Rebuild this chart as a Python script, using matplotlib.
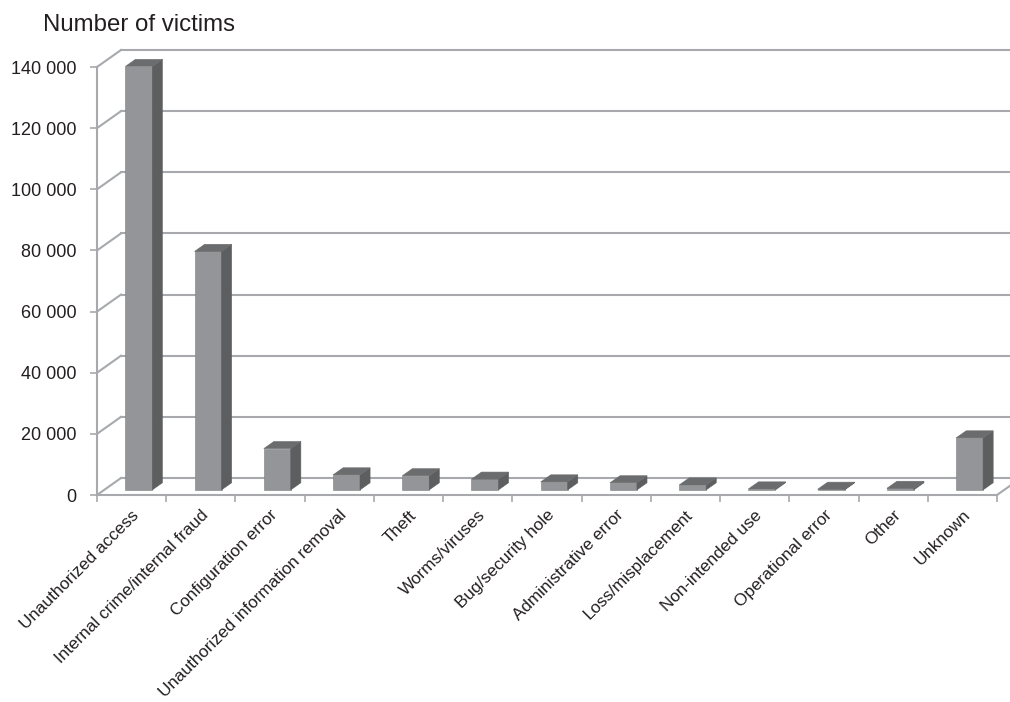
import numpy as np
import matplotlib
matplotlib.use('Agg')
import matplotlib.pyplot as plt
from matplotlib.patches import Polygon

plt.rcParams['font.family'] = ['Liberation Sans', 'DejaVu Sans']

categories = ['Unauthorized access', 'Internal crime/internal fraud', 'Configuration error',
              'Unauthorized information removal', 'Theft', 'Worms/viruses',
              'Bug/security hole', 'Administrative error', 'Loss/misplacement',
              'Non-intended use', 'Operational error', 'Other', 'Unknown']
victims = [138500, 78000, 13500, 4900, 4600, 3500, 2600, 2300, 1600, 300, 200, 500, 17000]
y_ticks = [0, 20000, 40000, 60000, 80000, 100000, 120000, 140000]
y_tick_labels = ['0', '20 000', '40 000', '60 000', '80 000', '100 000', '120 000', '140 000']

grid_col = '#a7a9ac'
front_col = '#939598'
side_col = '#5d5e60'
top_col = '#6b6c6e'
text_col = '#231f20'

fig = plt.figure(figsize=(10.1, 7.02), dpi=100)
ax = fig.add_axes([97 / 1010, 1 - 495 / 702, 900 / 1010, 428 / 702])
n = len(categories)
ax.set_xlim(0, n)
ax.set_ylim(0, 140000)

# depth of the 3d box in data units
DX = 24 / (900 / n)
DY = 17 / (428 / 140000)

# walls: diagonals on left wall + back wall gridlines
for v in y_ticks:
    ax.plot([0, DX], [v, v + DY], color=grid_col, lw=1.5, clip_on=False, zorder=1)
    ax.plot([DX, n + DX], [v + DY, v + DY], color=grid_col, lw=1.5, clip_on=False, zorder=1)
ax.plot([n, n + DX], [0, DY], color=grid_col, lw=1.5, clip_on=False, zorder=1)

# bars with pseudo 3d faces
d0, d1 = 0.3, 0.72
w = 0.39
centers = np.arange(n) + 0.5
xl = centers - w / 2 + d0 * DX
ax.bar(xl, victims, width=w, bottom=d0 * DY, align='edge', color=front_col,
       edgecolor='#7d7f81', lw=0.4, zorder=3)
ddx = (d1 - d0) * DX
ddy = (d1 - d0) * DY
for x0, v in zip(xl, victims):
    yb = d0 * DY
    yt = yb + v
    side = Polygon([[x0 + w, yb], [x0 + w + ddx, yb + ddy], [x0 + w + ddx, yt + ddy], [x0 + w, yt]],
                   closed=True, fc=side_col, ec=side_col, lw=0.4, zorder=3, clip_on=False)
    top = Polygon([[x0, yt], [x0 + ddx, yt + ddy], [x0 + w + ddx, yt + ddy], [x0 + w, yt]],
                  closed=True, fc=top_col, ec=top_col, lw=0.4, zorder=3, clip_on=False)
    ax.add_patch(side)
    ax.add_patch(top)

for s in ['top', 'right']:
    ax.spines[s].set_visible(False)
for s in ['left', 'bottom']:
    ax.spines[s].set_color(grid_col)
    ax.spines[s].set_linewidth(1.5)

ax.set_yticks(y_ticks)
ax.set_yticklabels(y_tick_labels, fontsize=13, color=text_col)
ax.tick_params(axis='y', direction='out', length=5, width=1.2, color=grid_col, pad=10)

ax.set_xticks(np.arange(n + 1))
ax.set_xticklabels([])
ax.tick_params(axis='x', which='major', direction='out', length=5, width=1.2, color=grid_col)
ax.set_xticks(centers, minor=True)
ax.set_xticklabels(categories, minor=True, rotation=45, ha='right', va='top',
                   rotation_mode='anchor', fontsize=12.3, color=text_col)
ax.tick_params(axis='x', which='minor', length=0, pad=9)
for lbl in ax.get_xticklabels(minor=True):
    lbl.set_x(lbl.get_position()[0])

fig.text(43 / 1010, 1 - 31 / 702, 'Number of victims', fontsize=17.3, color=text_col,
         ha='left', va='baseline')

fig.savefig('out.png', dpi=100)
